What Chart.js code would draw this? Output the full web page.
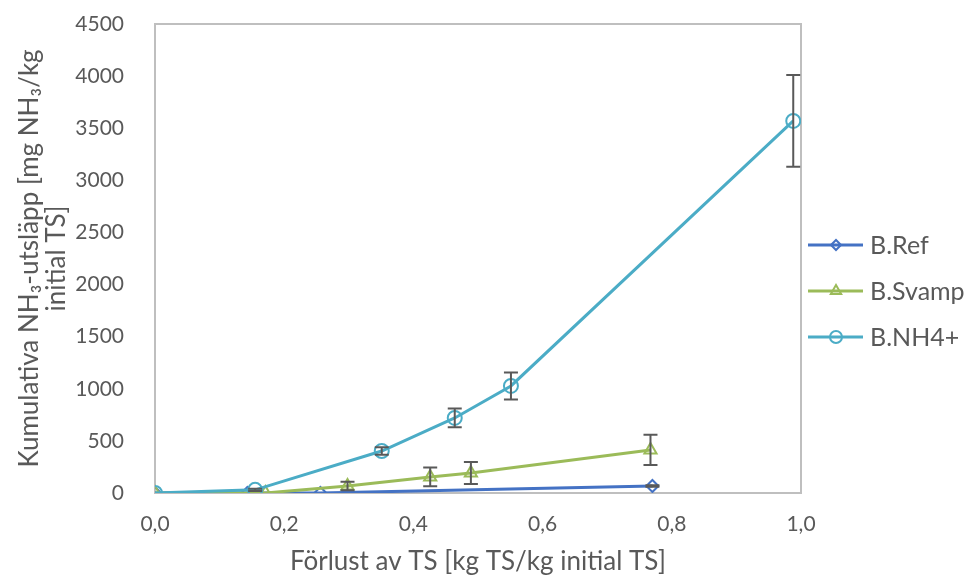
<!DOCTYPE html>
<html>
<head>
<meta charset="utf-8">
<script src="https://cdn.jsdelivr.net/npm/chart.js@4.4.1/dist/chart.umd.min.js"></script>
<style>
  html, body { margin: 0; padding: 0; background: #ffffff; }
  #wrap { width: 971px; height: 577px; }
</style>
</head>
<body>
<div id="wrap"><canvas id="c" width="971" height="577"></canvas></div>
<script>
// Cumulative NH3 emission vs. loss of total solids (TS)
const refX   = [0, 0.143, 0.256, 0.770];
const refY   = [0, 0, 0, 67];
const refErr = [0, 0, 0, 8];

const svampX   = [0, 0.171, 0.298, 0.426, 0.489, 0.767];
const svampY   = [0, 0, 67, 154, 192, 413];
const svampErr = [0, 0, 40, 90, 105, 145];

const nh4X   = [0, 0.155, 0.351, 0.464, 0.551, 0.988];
const nh4Y   = [0, 30, 403, 720, 1027, 3570];
const nh4Err = [0, 10, 35, 90, 130, 440];

const seriesNames = ['B.Ref', 'B.Svamp', 'B.NH4+'];
const xTitle = 'Förlust av TS [kg TS/kg initial TS]';
const yTitle = ['Kumulativa NH\u2083-utsläpp [mg NH\u2083/kg', 'initial TS]'];

const FONT = 'Lato, "Open Sans", sans-serif';
const TEXT = '#595959';

function pts(xs, ys) { return xs.map((x, i) => ({ x: x, y: ys[i] })); }

// Vertical error bars with caps, drawn from each dataset's errors array
const errorBars = {
  id: 'errorBars',
  afterDatasetsDraw(chart) {
    const ctx = chart.ctx, xs = chart.scales.x, ys = chart.scales.y;
    ctx.save();
    ctx.strokeStyle = '#595959';
    ctx.lineWidth = 2;
    chart.data.datasets.forEach(ds => {
      ds.data.forEach((p, i) => {
        const e = ds.errors[i];
        if (!e) return;
        const px = xs.getPixelForValue(p.x);
        const top = ys.getPixelForValue(p.y + e);
        const bot = ys.getPixelForValue(p.y - e);
        ctx.beginPath();
        ctx.moveTo(px, top); ctx.lineTo(px, bot);
        ctx.moveTo(px - 7, top); ctx.lineTo(px + 7, top);
        ctx.moveTo(px - 7, bot); ctx.lineTo(px + 7, bot);
        ctx.stroke();
      });
    });
    ctx.restore();
  }
};

// Grey frame around the plot area
const frame = {
  id: 'frame',
  beforeDatasetsDraw(chart) {
    const a = chart.chartArea, ctx = chart.ctx;
    ctx.save();
    ctx.strokeStyle = '#bfbfbf';
    ctx.lineWidth = 2;
    ctx.strokeRect(a.left, a.top, a.right - a.left, a.bottom - a.top);
    ctx.restore();
  }
};

// Legend on the right: line sample with hollow marker, then the series name
const sideLegend = {
  id: 'sideLegend',
  afterDraw(chart) {
    const ctx = chart.ctx;
    const x0 = chart.chartArea.right + 7;
    const rows = [245, 291, 337];
    ctx.save();
    chart.data.datasets.forEach((ds, i) => {
      const y = rows[i];
      ctx.strokeStyle = ds.borderColor;
      ctx.lineWidth = 3;
      ctx.beginPath();
      ctx.moveTo(x0, y); ctx.lineTo(x0 + 55, y);
      ctx.stroke();
      ctx.fillStyle = 'rgba(255,255,255,0)';
      ctx.lineWidth = 2;
      Chart.helpers.drawPoint(ctx, {
        pointStyle: ds.pointStyle,
        radius: ds.pointRadius - 1,
        borderWidth: 2
      }, x0 + 28, y);
      ctx.fillStyle = TEXT;
      ctx.font = '25px ' + FONT;
      ctx.textBaseline = 'middle';
      ctx.textAlign = 'left';
      ctx.fillText(ds.label, x0 + 62, y + 1);
    });
    ctx.restore();
  }
};

function series(label, xs, ys, errs, color, style, r, order) {
  return {
    label: label,
    data: pts(xs, ys),
    errors: errs,
    borderColor: color,
    backgroundColor: color,
    pointBackgroundColor: 'rgba(255,255,255,0)',
    pointBorderColor: color,
    pointBorderWidth: 2,
    pointStyle: style,
    pointRadius: r,
    borderWidth: 3,
    showLine: true,
    tension: 0,
    order: order
  };
}

new Chart(document.getElementById('c'), {
  type: 'scatter',
  data: {
    datasets: [
      series(seriesNames[0], refX, refY, refErr, '#4472c4', 'rectRot', 6, 3),
      series(seriesNames[1], svampX, svampY, svampErr, '#9bbb59', 'triangle', 7, 2),
      series(seriesNames[2], nh4X, nh4Y, nh4Err, '#4bacc6', 'circle', 7, 1)
    ]
  },
  options: {
    responsive: false,
    animation: false,
    layout: { padding: { top: 24, right: 170, bottom: 0, left: 0 } },
    plugins: { legend: { display: false }, tooltip: { enabled: false } },
    scales: {
      x: {
        type: 'linear', min: 0, max: 1,
        grid: { display: false, drawTicks: false },
        border: { display: false },
        ticks: {
          stepSize: 0.2, padding: 19, color: TEXT,
          font: { family: FONT, size: 21 },
          callback: v => v.toFixed(1).replace('.', ',')
        },
        title: {
          display: true, text: xTitle, color: TEXT,
          font: { family: FONT, size: 26 }, padding: { top: 12, bottom: 0 }
        },
        afterFit: s => { s.height = 84; s.paddingLeft = 0; s.paddingRight = 0; }
      },
      y: {
        min: 0, max: 4500,
        grid: { display: false, drawTicks: false },
        border: { display: false },
        ticks: {
          stepSize: 500, padding: 31, color: TEXT,
          font: { family: FONT, size: 21 },
          callback: v => String(v)
        },
        title: {
          display: true, text: yTitle, color: TEXT,
          font: { family: FONT, size: 26, lineHeight: 1.05 }, padding: { top: 16, bottom: 0 }
        },
        afterFit: s => { s.width = 155; s.paddingTop = 0; s.paddingBottom = 0; }
      }
    }
  },
  plugins: [frame, errorBars, sideLegend]
});
</script>
</body>
</html>
